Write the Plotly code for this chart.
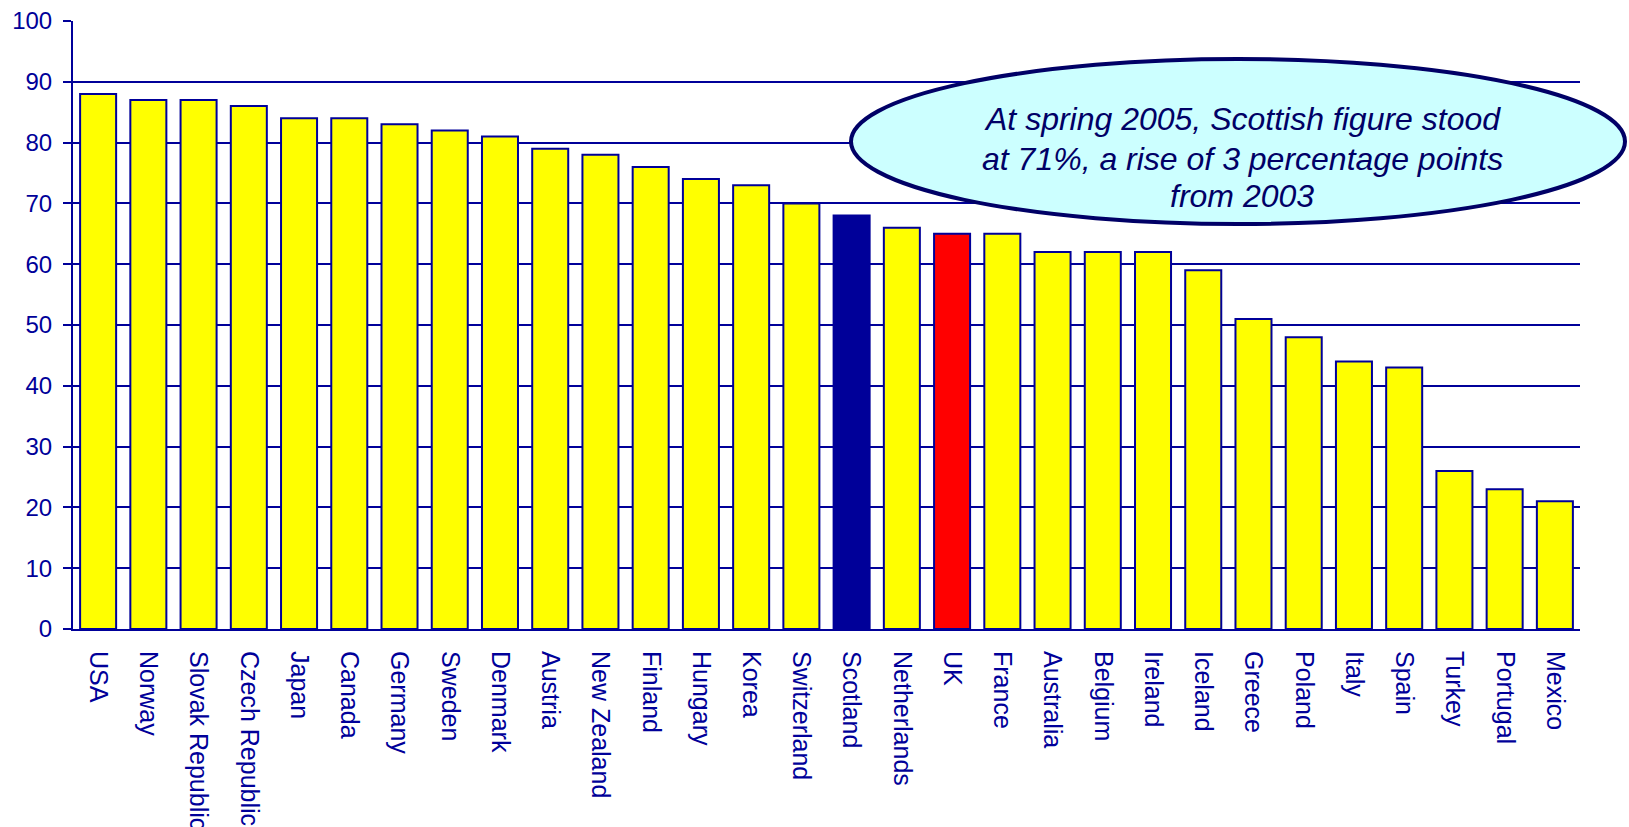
import plotly.graph_objects as go

countries = ["USA", "Norway", "Slovak Republic", "Czech Republic", "Japan", "Canada",
             "Germany", "Sweden", "Denmark", "Austria", "New Zealand", "Finland",
             "Hungary", "Korea", "Switzerland", "Scotland", "Netherlands", "UK",
             "France", "Australia", "Belgium", "Ireland", "Iceland", "Greece",
             "Poland", "Italy", "Spain", "Turkey", "Portugal", "Mexico"]
values = [88, 87, 87, 86, 84, 84, 83, 82, 81, 79, 78, 76, 74, 73, 70, 68, 66, 65,
          65, 62, 62, 62, 59, 51, 48, 44, 43, 26, 23, 21]
y_ticks = [0, 10, 20, 30, 40, 50, 60, 70, 80, 90, 100]
note_lines = ["At spring 2005, Scottish figure stood",
              "at 71%, a rise of 3 percentage points",
              "from 2003"]

NAVY = "#000099"
DARK = "#000066"
highlight = {"Scotland": NAVY, "UK": "#FF0000"}
colors = [highlight.get(c, "#FFFF00") for c in countries]

W, H = 1629, 827
# plot area in page pixels: x 73..1580, y 21..629
ML, MT = 73, 21
MR = W - 1580
MB = H - 629
pw, ph = W - ML - MR, H - MT - MB

def px_x(x):
    return (x - ML) / pw

def px_y(y):
    return (H - MB - y) / ph

fig = go.Figure(go.Bar(
    x=countries, y=values,
    marker=dict(color=colors, line=dict(color=NAVY, width=2)),
    hoverinfo="x+y",
))

fig.update_layout(
    width=W, height=H,
    margin=dict(l=ML, r=MR, t=MT, b=MB, autoexpand=False),
    paper_bgcolor="white", plot_bgcolor="white",
    bargap=0.283, showlegend=False,
    font=dict(family="Liberation Sans, Arial, sans-serif", color=NAVY),
)
fig.update_xaxes(
    tickangle=90, ticks="", showgrid=False,
    tickfont=dict(size=25, color=NAVY),
    showline=True, linecolor=NAVY, linewidth=2,
    ticklabelstandoff=15, ticklabeloverflow="allow",
)
fig.update_yaxes(
    range=[0, 100], tickvals=y_ticks, ticktext=[str(v) for v in y_ticks],
    showgrid=True, gridcolor=NAVY, gridwidth=1.5,
    ticks="outside", ticklen=8, tickcolor=NAVY, tickwidth=2,
    showline=True, linecolor=NAVY, linewidth=2,
    tickfont=dict(size=24, color=NAVY), zeroline=False,
    ticklabelstandoff=6, ticklabeloverflow="allow",
)

fig.add_shape(type="circle", xref="paper", yref="paper",
              x0=px_x(851), x1=px_x(1625), y0=px_y(224), y1=px_y(59),
              fillcolor="#CCFFFF", line=dict(color=DARK, width=4), layer="above")
line_centres = [119, 159, 196]
for txt, yc in zip(note_lines, line_centres):
    fig.add_annotation(xref="paper", yref="paper", x=px_x(1242), y=px_y(yc),
                       text="<i>" + txt + "</i>", showarrow=False,
                       xanchor="center", yanchor="middle", align="center",
                       font=dict(size=32, color=DARK,
                                 family="Liberation Sans, Arial, sans-serif"))

fig.write_html("out.html",
               config={"displayModeBar": False},
               post_script="document.body.style.margin='0';"
                           "document.body.style.overflow='hidden';")
